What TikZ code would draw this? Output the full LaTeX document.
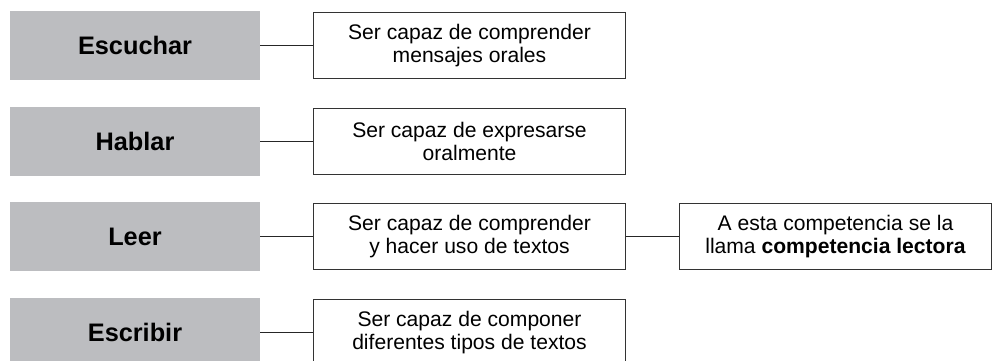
\documentclass[tikz,border=0pt]{standalone}
\usepackage{fontspec}
\setmainfont{Liberation Sans}
\usepackage{tikz}
\definecolor{skillgray}{RGB}{188,189,192}

\begin{document}
\begin{tikzpicture}[x=0.025cm,y=-0.025cm,
		skill/.style={fill=skillgray,minimum width=6.25cm,minimum height=1.725cm,inner sep=0pt,
			font=\bfseries\fontsize{18}{20}\selectfont},
		desc/.style={draw=black!80,line width=0.8pt,fill=white,minimum width=7.8cm,minimum height=1.65cm,
			inner sep=0pt,align=center,font=\fontsize{15}{17}\selectfont}]
				\useasboundingbox (0,0) rectangle (998,361);
				
				% Skills
				\node[skill] (escuchar) at (135,45.5) {Escuchar};
				\node[skill] (hablar) at (135,141.5) {Hablar};
				\node[skill] (leer) at (135,236.5) {Leer};
				\node[skill] (escribir) at (135,332.5) {Escribir};
				
				% Descriptions
				\node[desc] (escucharDesc) at (469.5,45.5) {Ser capaz de comprender\\mensajes orales};
				\node[desc] (hablarDesc) at (469.5,141.5) {Ser capaz de expresarse\\oralmente};
				\node[desc] (leerDesc) at (469.5,236.5) {Ser capaz de comprender\\y hacer uso de textos};
				\node[desc] (escribirDesc) at (469.5,332.5) {Ser capaz de componer\\diferentes tipos de textos};
				\node[desc] (lectora) at (835.5,236.5) {A esta competencia se la\\llama \textbf{competencia lectora}};
				
				% Links
				\foreach \from/\to in {escuchar/escucharDesc,hablar/hablarDesc,leer/leerDesc,escribir/escribirDesc,leerDesc/lectora}
				\draw[black!85,line width=0.7pt] (\from.east) -- (\to.west);
			\end{tikzpicture}
\end{document}
